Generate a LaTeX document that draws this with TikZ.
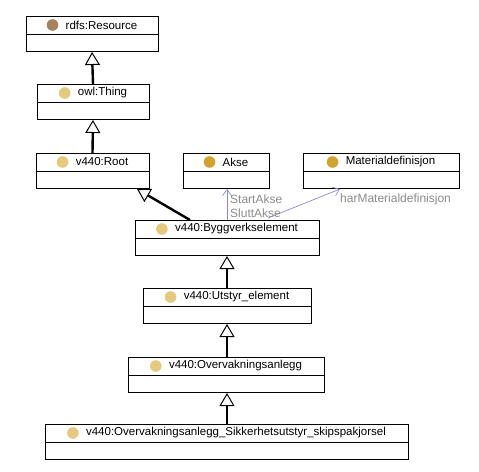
\documentclass[tikz,border=0pt]{standalone}
\usepackage{fontspec}
\setmainfont{Liberation Sans}
\usetikzlibrary{arrows.meta,calc}
\definecolor{cbrown}{HTML}{A8825F}
\definecolor{ctan}{HTML}{E5C97F}
\definecolor{cgold}{HTML}{D2A42E}
\definecolor{cblue}{HTML}{8A8AD8}
\definecolor{cgray}{HTML}{8C8C8C}
\tikzset{
  clsbox/.style={draw=black, line width=1pt, minimum height=35pt, inner sep=0pt, anchor=north, fill=white},
  clstext/.style={font=\fontsize{11.5}{13}\selectfont, inner sep=0pt, anchor=center},
  inh/.style={line width=2.4pt, -{Triangle[open, width=15pt, length=13pt, line width=1pt]}},
  prop/.style={draw=cblue, line width=0.7pt, -{Straight Barb[length=6pt, width=9pt, line width=0.7pt]}},
  proplbl/.style={font=\fontsize{12}{13}\selectfont, text=cgray, inner sep=0pt, anchor=west},
}
\newcommand{\umlclass}[6]{%
  % #1 name, #2 cx, #3 top, #4 width, #5 colour, #6 text
  \node[clsbox, minimum width=#4pt] (#1) at (#2,#3) {};
  \draw[line width=1pt] ([yshift=-18pt]#1.north west) -- ([yshift=-18pt]#1.north east);
  \node[clstext] (#1T) at ([yshift=-9pt, xshift=9.5pt]#1.north) {#6};
  \fill[#5] ([xshift=-13pt]#1T.west) circle (5.8pt);
}
\begin{document}
\begin{tikzpicture}[x=1pt,y=-1pt]
\useasboundingbox[fill=white] (0,0) rectangle (479,471);
\umlclass{res}{92}{16}{132}{cbrown}{rdfs:Resource}
\umlclass{thing}{93}{84}{112}{ctan}{owl:Thing}
\umlclass{root}{92.5}{153}{113}{ctan}{v440:Root}
\umlclass{akse}{226}{153}{86}{cgold}{Akse}
\umlclass{mat}{381}{153}{156}{cgold}{Materialdefinisjon}
\umlclass{bygg}{227}{220}{184}{ctan}{v440:Byggverkselement}
\umlclass{utst}{227}{288}{168}{ctan}{v440:Utstyr\_element}
\umlclass{overv}{226}{357}{196}{ctan}{v440:Overvakningsanlegg}
\umlclass{sikk}{226.5}{424}{363}{ctan}{v440:Overvakningsanlegg\_Sikkerhetsutstyr\_skipspakjorsel}

\draw[inh] (thing.north) -- (res.south);
\draw[inh] (root.north) -- (thing.south);
\draw[inh] ([xshift=-37pt]bygg.north) -- ([xshift=44.5pt]root.south);
\draw[inh] (utst.north) -- (bygg.south);
\draw[inh] ([xshift=1pt]overv.north) -- ([xshift=1pt]overv.north |- utst.south);
\draw[inh] ([xshift=0.5pt]sikk.north) -- ([xshift=0.5pt]sikk.north |- overv.south);

\draw[prop] (bygg.north) -- (bygg.north |- akse.south);
\draw[prop] ([xshift=41pt,yshift=2pt]bygg.north) -- ([xshift=-41pt]mat.south);
\node[proplbl] (l1) at (230,199) {StartAkse};
\node[proplbl] (l2) at (230,213) {SluttAkse};
\node[proplbl] (l3) at (340,199) {harMaterialdefinisjon};
\end{tikzpicture}
\end{document}
